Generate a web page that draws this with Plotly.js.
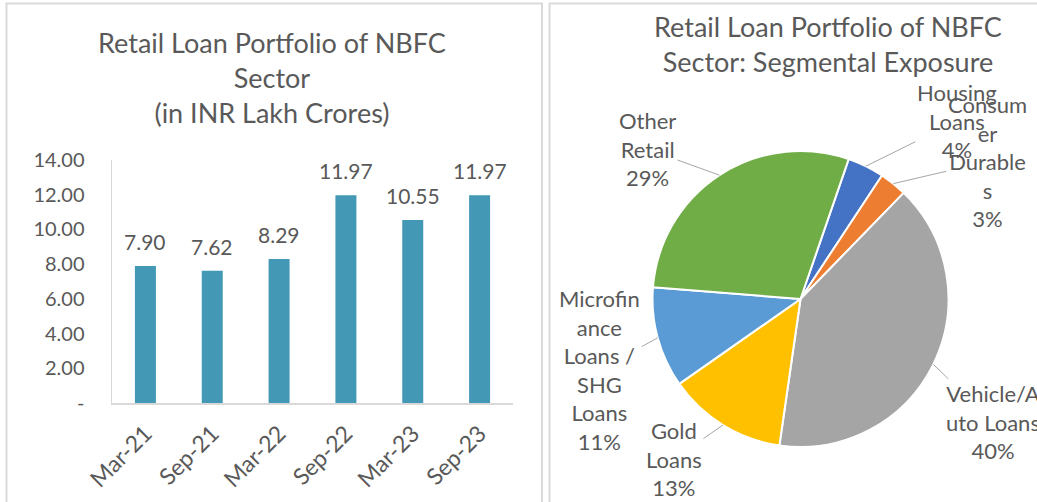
<!DOCTYPE html>
<html>
<head>
<meta charset="utf-8">
<script src="https://cdn.plot.ly/plotly-3.0.1.min.js"></script>
<style>html,body{margin:0;padding:0;background:#fff;}#chart{width:1037px;height:502px;}</style>
</head>
<body>
<div id="chart"></div>
<script>
// ---- data ----
const periods = ['Mar-21', 'Sep-21', 'Mar-22', 'Sep-22', 'Mar-23', 'Sep-23'];
const portfolio = [7.90, 7.62, 8.29, 11.97, 10.55, 11.97];
const yTickVals = [0, 2, 4, 6, 8, 10, 12, 14];
const yTickText = ['-', '2.00', '4.00', '6.00', '8.00', '10.00', '12.00', '14.00'];

const segments = ['Housing Loans', 'Consumer Durables', 'Vehicle/Auto Loans', 'Gold Loans', 'Microfinance Loans / SHG Loans', 'Other Retail'];
const shares = [4, 3, 40, 13, 11, 29];
const segLabelText = ['Housing<br>Loans', 'Consum<br>er<br>Durable<br>s', 'Vehicle/A<br>uto Loans', 'Gold<br>Loans', 'Microfin<br>ance<br>Loans /<br>SHG<br>Loans', 'Other<br>Retail'];

const leftTitle = 'Retail Loan Portfolio of NBFC<br>Sector<br>(in INR Lakh Crores)';
const rightTitle = 'Retail Loan Portfolio of NBFC<br>Sector: Segmental Exposure';

// ---- layout / style ----
const W = 1037, H = 502;
const FONT = 'Lato, "Open Sans", sans-serif';
const TXT = '#595959';
const GRID = '#d9d9d9';
const pieColors = ['#4472C4', '#ED7D31', '#A5A5A5', '#FFC000', '#5B9BD5', '#70AD47'];
const pieRotation = 19;
const pieDomain = {x: [652.5 / W, 948.5 / W], y: [(H - 447) / H, (H - 151) / H]};
// label offsets (px) from slice edge midpoint to label centre
const labelOffsets = [[91, -45], [94, -22], [60, 58], [-49, 34], [-58, 32], [-72, -26]];

const barTrace = {
  type: 'bar', x: periods, y: portfolio, xaxis: 'x', yaxis: 'y',
  marker: {color: '#4298B5', line: {width: 0}},
  hoverinfo: 'x+y', showlegend: false
};

const pieTrace = {
  type: 'pie', labels: segments, values: shares, sort: false,
  direction: 'clockwise', rotation: pieRotation, domain: pieDomain,
  marker: {colors: pieColors, line: {color: '#ffffff', width: 2}},
  textinfo: 'none', showlegend: false
};

const annotations = [];
// bar value labels
periods.forEach((p, i) => {
  annotations.push({
    xref: 'x', yref: 'y', x: p, y: portfolio[i], text: portfolio[i].toFixed(2),
    showarrow: false, yanchor: 'bottom', yshift: 10,
    font: {family: FONT, size: 21, color: TXT}
  });
});
// titles
annotations.push({xref: 'paper', yref: 'paper', x: 272 / W, y: 1 - 24 / H, xanchor: 'center', yanchor: 'top',
  text: leftTitle, showarrow: false, align: 'center', font: {family: FONT, size: 27, color: TXT}});
annotations.push({xref: 'paper', yref: 'paper', x: 828 / W, y: 1 - 8 / H, xanchor: 'center', yanchor: 'top',
  text: rightTitle, showarrow: false, align: 'center', font: {family: FONT, size: 27, color: TXT}});

// pie labels with leader lines, anchored at slice mid-angles
const total = shares.reduce((a, b) => a + b, 0);
const cx = (pieDomain.x[0] + pieDomain.x[1]) / 2 * W;
const cy = (1 - (pieDomain.y[0] + pieDomain.y[1]) / 2) * H;
const r = Math.min((pieDomain.x[1] - pieDomain.x[0]) * W, (pieDomain.y[1] - pieDomain.y[0]) * H) / 2;
let cum = 0;
shares.forEach((v, i) => {
  const a = (pieRotation + (cum + v / 2) / total * 360) * Math.PI / 180;
  cum += v;
  const px = cx + r * Math.sin(a), py = cy - r * Math.cos(a);
  annotations.push({
    xref: 'paper', yref: 'paper', x: px / W, y: 1 - py / H,
    text: segLabelText[i] + '<br>' + Math.round(v / total * 100) + '%',
    showarrow: true, arrowhead: 0, arrowwidth: 1, arrowcolor: '#a6a6a6',
    ax: labelOffsets[i][0], ay: labelOffsets[i][1], align: 'center',
    font: {family: FONT, size: 22, color: TXT}
  });
});

const shapes = [
  {type: 'rect', xref: 'paper', yref: 'paper', x0: 6.5 / W, x1: 542 / W, y0: -0.1, y1: 1 - 3.5 / H,
   line: {color: GRID, width: 2}, fillcolor: 'rgba(0,0,0,0)', layer: 'below'},
  {type: 'rect', xref: 'paper', yref: 'paper', x0: 549.5 / W, x1: 1.1, y0: -0.1, y1: 1 - 3.5 / H,
   line: {color: GRID, width: 2}, fillcolor: 'rgba(0,0,0,0)', layer: 'below'}
];

const layout = {
  width: W, height: H, margin: {l: 0, r: 0, t: 0, b: 0},
  paper_bgcolor: '#fff', plot_bgcolor: 'rgba(0,0,0,0)',
  font: {family: FONT, color: TXT},
  bargap: 0.686,
  xaxis: {domain: [112 / W, 513 / W], type: 'category', showline: true, linecolor: GRID, linewidth: 2,
    ticks: '', tickangle: -45, tickfont: {family: FONT, size: 23, color: TXT}, showgrid: false, zeroline: false,
    ticklabelstandoff: 6},
  yaxis: {domain: [(H - 403) / H, (H - 160) / H], range: [0, 14], showline: true, linecolor: GRID, linewidth: 1.5,
    tickvals: yTickVals, ticktext: yTickText, ticks: '', showgrid: false, zeroline: false,
    tickfont: {family: FONT, size: 20, color: TXT}, ticklabelstandoff: 22},
  annotations: annotations,
  shapes: shapes
};

Plotly.newPlot('chart', [barTrace, pieTrace], layout, {staticPlot: true});
</script>
</body>
</html>
